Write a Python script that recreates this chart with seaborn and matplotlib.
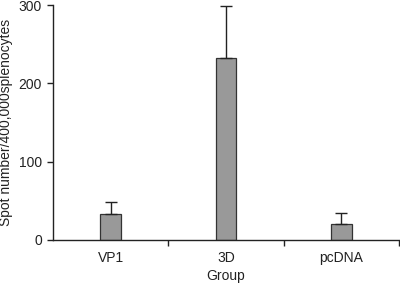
import pandas as pd
import seaborn as sns
import matplotlib.pyplot as plt

# Spot counts per group
groups = ['VP1', '3D', 'pcDNA']
spots = [33, 232, 20]
spots_err = [15, 67, 14]

df = pd.DataFrame({'group': groups, 'spots': spots})

sns.set_style('ticks')
plt.rcParams['font.family'] = ['Liberation Sans', 'DejaVu Sans']

fig = plt.figure(figsize=(4, 2.86), dpi=100)
ax = fig.add_axes([0.1325, 0.161, 0.865, 0.8215])

sns.barplot(data=df, x='group', y='spots', color='#999999', saturation=1,
            width=0.18, edgecolor='#333333', linewidth=0.9, errorbar=None, ax=ax)

# upper error bars only
ax.errorbar(range(len(groups)), spots, yerr=[[0] * len(groups), spots_err],
            fmt='none', ecolor='#222222', elinewidth=1, capsize=4, capthick=1)

ax.set_xlim(-0.5, 2.5)
ax.set_ylim(0, 300)
ax.set_yticks([0, 100, 200, 300])
ax.set_xticks([0, 1, 2])
ax.set_xticks([0.5, 1.5, 2.5], minor=True)
ax.tick_params(axis='x', which='major', length=0, labelsize=10, pad=8, colors='#222222')
ax.tick_params(axis='x', which='minor', length=4, width=1, color='#222222')
ax.tick_params(axis='y', length=4, width=1, labelsize=10, pad=4, colors='#222222')

ax.set_xlabel('Group', fontsize=10, color='#222222', labelpad=3)
ax.set_ylabel('Spot number/400,000splenocytes', fontsize=10, color='#222222', labelpad=4)

sns.despine(ax=ax)
for s in ['left', 'bottom']:
    ax.spines[s].set_color('#222222')
    ax.spines[s].set_linewidth(1)

fig.savefig('out.png', dpi=100)
